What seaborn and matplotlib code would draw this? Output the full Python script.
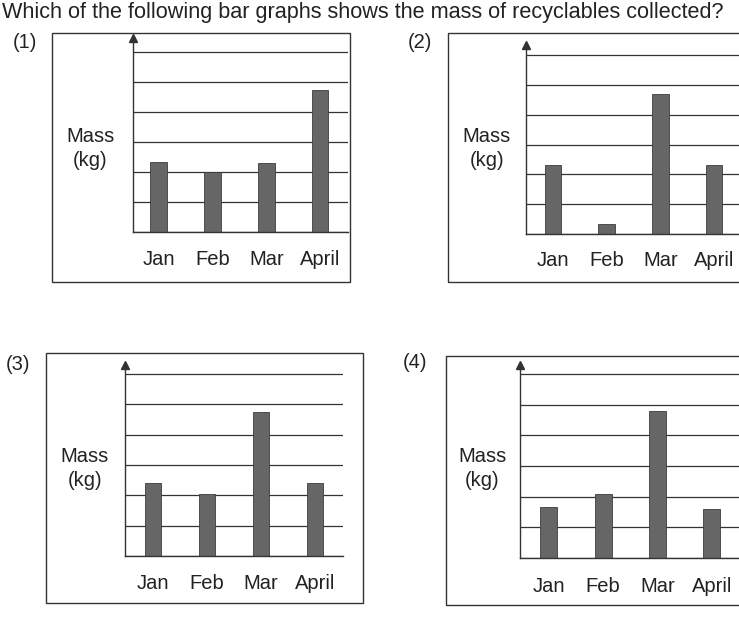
import matplotlib
matplotlib.use("Agg")
import matplotlib.pyplot as plt
import matplotlib.patches as mpatches
import pandas as pd
import seaborn as sns

W, H = 739, 623

question = "Which of the following bar graphs shows the mass of recyclables collected?"
months = ["Jan", "Feb", "Mar", "April"]
mass_1 = [2.35, 2.0, 2.3, 4.75]
mass_2 = [2.3, 0.35, 4.7, 2.3]
mass_3 = [2.4, 2.05, 4.75, 2.4]
mass_4 = [1.65, 2.1, 4.8, 1.6]
option_labels = ["(1)", "(2)", "(3)", "(4)"]
y_label = ["Mass", "(kg)"]
grid_levels = [0, 1, 2, 3, 4, 5, 6]

# ---- layout in pixels of the 739x623 page ----
# frame box, axes (left, right, baseline, arrow top, top gridline), xlim,
# option label position, y label centre, tick label pad
panels = [
    dict(mass=mass_1, frame=(52, 33, 350, 282), ax=(133, 348, 232, 38, 52),
         xlim=(-0.48, 3.52), opt=(25, 43), ylab=(90, 137), pad=7),
    dict(mass=mass_2, frame=(448, 33, 790, 282), ax=(526, 770, 234, 45, 55),
         xlim=(-0.50, 4.04), opt=(420, 43), ylab=(487, 137), pad=6),
    dict(mass=mass_3, frame=(46, 353, 363, 603), ax=(125, 343, 556, 365, 374),
         xlim=(-0.52, 3.52), opt=(18, 365), ylab=(85, 457), pad=7),
    dict(mass=mass_4, frame=(446, 356, 790, 605), ax=(520, 770, 558, 365, 374),
         xlim=(-0.53, 4.07), opt=(415, 363), ylab=(482, 457), pad=7.5),
]

ink = "#333333"
bar_color = "#666666"
fs = 14.5

sns.set_theme(style="white")
plt.rcParams["font.family"] = ["Liberation Sans", "DejaVu Sans"]

fig = plt.figure(figsize=(W / 100, H / 100), dpi=100)
fig.patch.set_facecolor("white")


def fx(x):
    return x / W


def fy(y):
    return 1 - y / H


# question line at the very top of the page
fig.text(fx(2), fy(18), question, fontsize=15.6, color="#222222", va="baseline", ha="left")

for i, p in enumerate(panels):
    x0, y0, x1, y1 = p["frame"]
    fig.add_artist(mpatches.Rectangle((fx(x0), fy(y1)), (x1 - x0) / W, (y1 - y0) / H,
                                      transform=fig.transFigure, fill=False,
                                      edgecolor=ink, linewidth=1.0))
    fig.text(fx(p["opt"][0]), fy(p["opt"][1]), option_labels[i], fontsize=fs,
             color="#222222", ha="center", va="center")
    lx, ly = p["ylab"]
    fig.text(fx(lx), fy(ly), y_label[0], fontsize=fs, color="#222222", ha="center", va="center")
    fig.text(fx(lx), fy(ly + 24), y_label[1], fontsize=fs, color="#222222", ha="center", va="center")

    left, right, base, top, grid6 = p["ax"]
    ax = fig.add_axes([fx(left), fy(base), (right - left) / W, (base - top) / H])
    ax.set_facecolor("none")
    df = pd.DataFrame({"month": months, "mass": p["mass"]})
    sns.barplot(data=df, x="month", y="mass", ax=ax, color=bar_color, width=0.31,
                edgecolor="#3c3c3c", linewidth=0.6, saturation=1)
    ax.set_xlim(*p["xlim"])
    ax.set_ylim(0, 6.0 * (base - top) / (base - grid6))
    ax.set_yticks(grid_levels)
    ax.yaxis.grid(True, color=ink, linewidth=0.9)
    ax.xaxis.grid(False)
    ax.set_axisbelow(True)
    ax.tick_params(axis="y", left=False, labelleft=False)
    ax.tick_params(axis="x", bottom=False, pad=p["pad"], labelsize=fs, labelcolor="#222222")
    ax.set_xlabel("")
    ax.set_ylabel("")
    for side in ["top", "right"]:
        ax.spines[side].set_visible(False)
    for side in ["left", "bottom"]:
        ax.spines[side].set_color(ink)
        ax.spines[side].set_linewidth(1.0)
    ax.plot([0], [1], marker="^", markersize=6, color=ink, transform=ax.transAxes,
            clip_on=False)

fig.savefig("out.png", dpi=100)
